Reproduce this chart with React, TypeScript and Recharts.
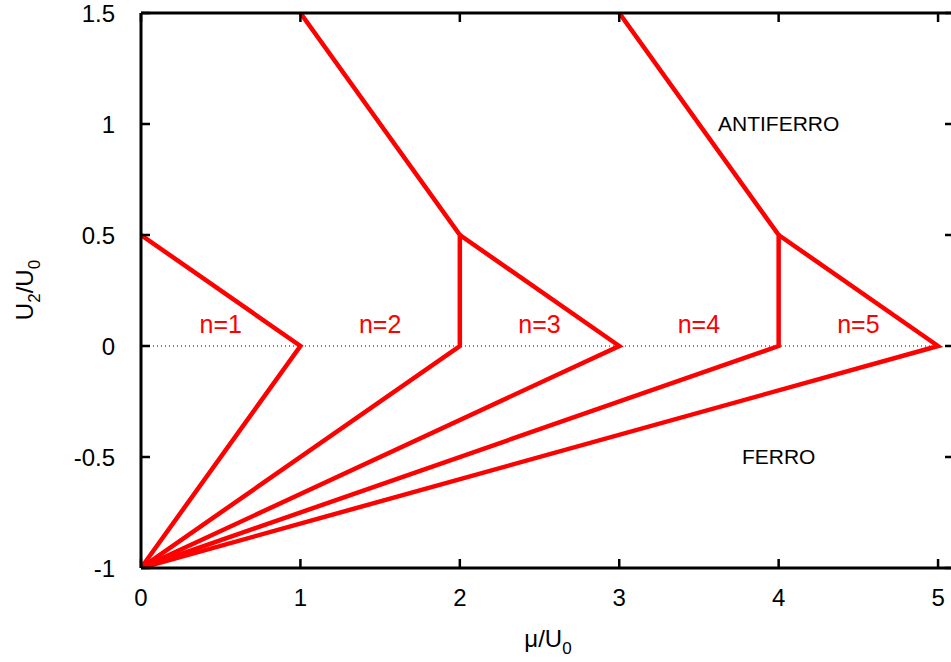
import { LineChart, Line, XAxis, YAxis, ReferenceDot, Label } from "recharts";

// phase boundaries as [mu/U0, U2/U0] points
const boundary1 = [[0, 0.5], [1, 0], [0, -1]];
const boundary2 = [[1, 1.5], [2, 0.5], [2, 0], [0, -1]];
const boundary3 = [[2, 0.5], [3, 0], [0, -1]];
const boundary4 = [[3, 1.5], [4, 0.5], [4, 0], [0, -1]];
const boundary5 = [[4, 0.5], [5, 0], [0, -1]];
const zeroLine = [[0, 0], [5, 0]];

const phaseNames = ["n=1", "n=2", "n=3", "n=4", "n=5"];
const phaseMu = [0.5, 1.5, 2.5, 3.5, 4.5];
const phaseU2 = [0.1, 0.1, 0.1, 0.1, 0.1];

const regionNames = ["ANTIFERRO", "FERRO"];
const regionMu = [4, 4];
const regionU2 = [1, -0.5];

const xTicks = [0, 1, 2, 3, 4, 5];
const yTicks = [-1, -0.5, 0, 0.5, 1, 1.5];

const FONT = "'Liberation Sans', Arial, Helvetica, sans-serif";
const RED = "#ff0000";
const TICK_LEN = 9;
const MARGIN = 26;

const toPoints = (pts: number[][]) => pts.map(([mu, u2]) => ({ mu, u2 }));
const boundaries = [boundary1, boundary2, boundary3, boundary4, boundary5];

// gnuplot-style inward ticks, drawn by the tick renderer (tickSize is 0)
const BottomTick = ({ x, y, payload }: any) => (
  <g>
    <line x1={x} x2={x} y1={y - MARGIN} y2={y - MARGIN - TICK_LEN} stroke="#000" strokeWidth={2.5} />
    <text x={x} y={y - 5} dy="0.71em" textAnchor="middle" fontSize={24} fontFamily={FONT} fill="#000">
      {payload.value}
    </text>
  </g>
);

const LeftTick = ({ x, y, payload }: any) => (
  <g>
    <line x1={x + MARGIN} x2={x + MARGIN + TICK_LEN} y1={y} y2={y} stroke="#000" strokeWidth={2.5} />
    <text x={x} y={y} dy="0.36em" textAnchor="end" fontSize={24} fontFamily={FONT} fill="#000">
      {payload.value}
    </text>
  </g>
);

const TopTick = ({ x, y }: any) => (
  <line x1={x} x2={x} y1={y + MARGIN} y2={y + MARGIN + TICK_LEN} stroke="#000" strokeWidth={2.5} />
);

const RightTick = ({ x, y }: any) => (
  <line x1={x - MARGIN} x2={x - MARGIN - TICK_LEN} y1={y} y2={y} stroke="#000" strokeWidth={2.5} />
);

const YTitle = () => (
  <text
    x={33}
    y={290}
    transform="rotate(-90, 33, 290)"
    textAnchor="middle"
    fontFamily={FONT}
    fontSize={24}
    fill="#000"
  >
    U<tspan dy={7} fontSize={17}>2</tspan>
    <tspan dy={-7}>/U</tspan>
    <tspan dy={7} fontSize={17}>0</tspan>
  </text>
);

const XTitle = () => (
  <text x={548} y={647} textAnchor="middle" fontFamily={FONT} fontSize={24} fill="#000">
    μ/U<tspan dy={7} fontSize={17}>0</tspan>
  </text>
);

const App = () => {
  const frame = { stroke: "#000", strokeWidth: 3 };
  return (
    <div style={{ position: "absolute", left: 0, top: 0, width: 951, height: 662, overflow: "hidden", background: "#fff" }}>
      <LineChart width={966} height={662} margin={{ top: 8, right: 2, bottom: 0, left: 0 }}>
        <XAxis
          xAxisId={0}
          dataKey="mu"
          type="number"
          domain={[0, 5.1]}
          ticks={xTicks}
          allowDataOverflow
          height={94}
          tickSize={0}
          tickMargin={MARGIN}
          tick={BottomTick}
          tickLine={false}
          axisLine={frame}
        >
          <Label content={<XTitle />} />
        </XAxis>
        <XAxis
          xAxisId="top"
          orientation="top"
          dataKey="mu"
          type="number"
          domain={[0, 5.1]}
          ticks={xTicks}
          allowDataOverflow
          height={5}
          tickSize={0}
          tickMargin={MARGIN}
          tick={TopTick}
          tickLine={false}
          axisLine={frame}
        />
        <YAxis
          yAxisId={0}
          type="number"
          domain={[-1, 1.5]}
          ticks={yTicks}
          allowDataOverflow
          width={141}
          tickSize={0}
          tickMargin={MARGIN}
          tick={LeftTick}
          tickLine={false}
          axisLine={frame}
        >
          <Label content={<YTitle />} />
        </YAxis>
        <YAxis
          yAxisId="right"
          orientation="right"
          type="number"
          domain={[-1, 1.5]}
          ticks={yTicks}
          allowDataOverflow
          width={10}
          tickSize={0}
          tickMargin={MARGIN}
          tick={RightTick}
          tickLine={false}
          axisLine={frame}
        />
        <Line
          data={toPoints(zeroLine)}
          dataKey="u2"
          stroke="#000"
          strokeWidth={1}
          strokeDasharray="1 3"
          dot={false}
          isAnimationActive={false}
        />
        {boundaries.map((b, i) => (
          <Line
            key={`b-${i}`}
            data={toPoints(b)}
            dataKey="u2"
            stroke={RED}
            strokeWidth={4.5}
            strokeLinejoin="miter"
            dot={false}
            isAnimationActive={false}
          />
        ))}
        {phaseNames.map((name, i) => (
          <ReferenceDot
            key={`p-${i}`}
            x={phaseMu[i]}
            y={phaseU2[i]}
            r={0}
            fill="none"
            stroke="none"
            label={{ value: name, position: "center", fill: RED, fontSize: 25, fontFamily: FONT }}
          />
        ))}
        {regionNames.map((name, i) => (
          <ReferenceDot
            key={`r-${i}`}
            x={regionMu[i]}
            y={regionU2[i]}
            r={0}
            fill="none"
            stroke="none"
            label={{ value: name, position: "center", fill: "#000", fontSize: 21, fontFamily: FONT }}
          />
        ))}
      </LineChart>
    </div>
  );
};

export default App;
